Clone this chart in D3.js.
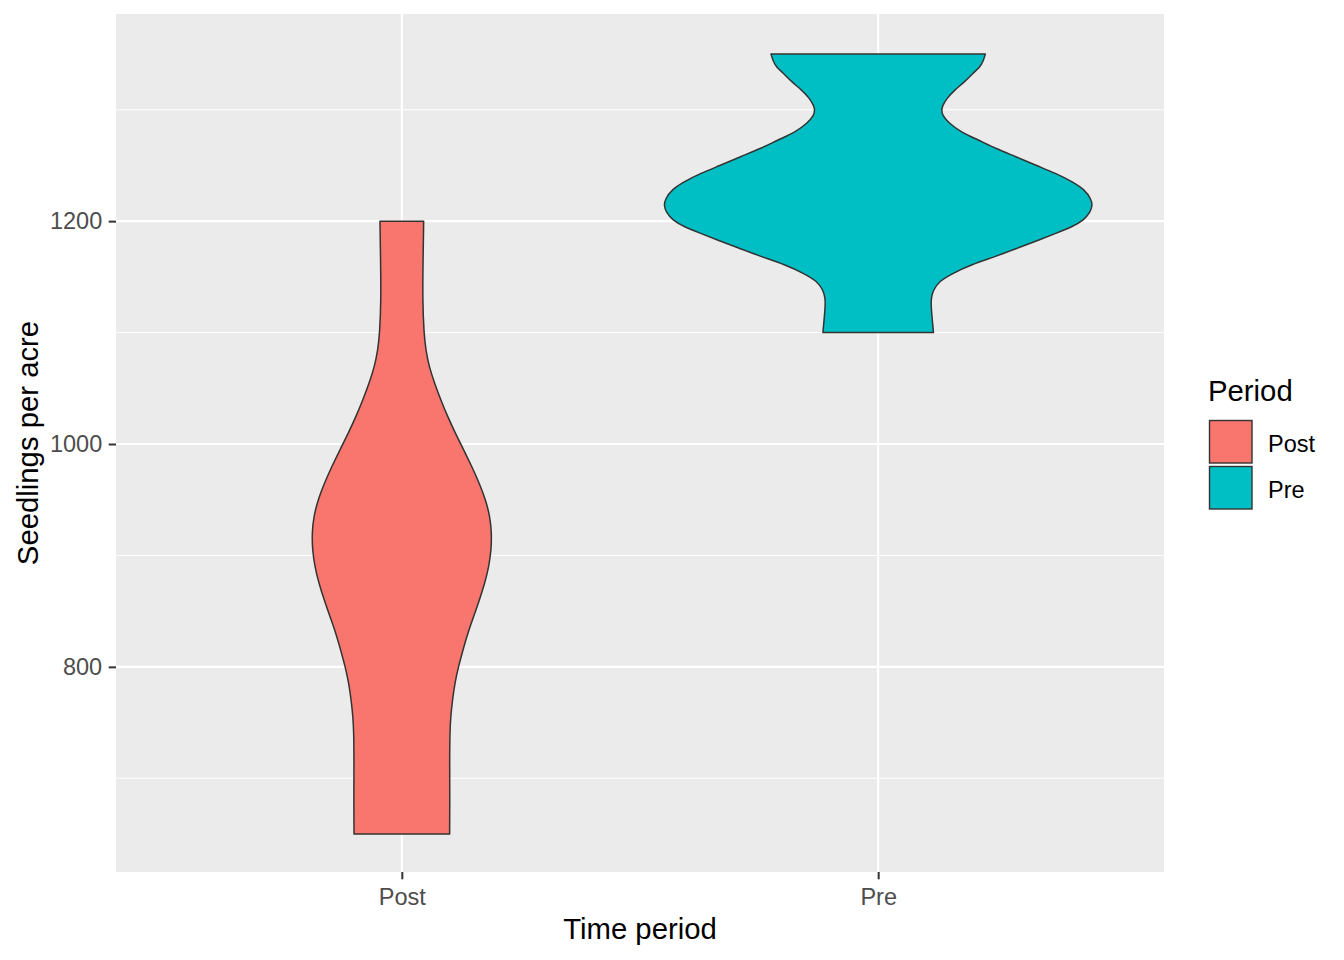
<!DOCTYPE html>
<html>
<head>
<meta charset="utf-8">
<script src="https://cdn.jsdelivr.net/npm/d3@7"></script>
<style>
  html, body { margin: 0; padding: 0; background: #fff; }
  svg { display: block; }
  text { font-family: Arial, "Liberation Sans", Helvetica, sans-serif; }
</style>
</head>
<body>
<svg id="chart" width="1344" height="960"></svg>
<script>
// ---- data ----
const categories = ["Post", "Pre"];
const fillColors = ["#F8766D", "#00BFC4"];
const yTicks = [800, 1000, 1200];
const yMinor = [700, 900, 1100, 1300];
const yDomain = [615, 1385];

// estimated density profile (value, relative density; 1 = widest violin)
const postValues = [1200, 1165, 1129, 1100, 1084, 1069, 1055, 1040, 1025, 1010, 995, 980, 965, 950, 935, 920, 905, 890, 875, 860, 845, 831, 815, 800, 786, 770, 755, 741, 711, 681, 650];
const postDensity = [0.102, 0.099, 0.097, 0.103, 0.112, 0.128, 0.152, 0.181, 0.213, 0.249, 0.288, 0.326, 0.361, 0.391, 0.411, 0.419, 0.417, 0.406, 0.387, 0.362, 0.335, 0.309, 0.285, 0.264, 0.248, 0.236, 0.228, 0.224, 0.223, 0.224, 0.223];

const preValues = [1350, 1344, 1338, 1333, 1325, 1318, 1310, 1303, 1300, 1295, 1288, 1280, 1273, 1265, 1258, 1250, 1243, 1235, 1228, 1220, 1214, 1208, 1201, 1195, 1189, 1183, 1176, 1168, 1161, 1153, 1146, 1138, 1131, 1123, 1108, 1100];
const preDensity = [0.500, 0.491, 0.474, 0.443, 0.404, 0.358, 0.319, 0.299, 0.296, 0.299, 0.330, 0.385, 0.466, 0.550, 0.641, 0.737, 0.828, 0.909, 0.964, 0.993, 1.000, 0.989, 0.960, 0.906, 0.828, 0.750, 0.653, 0.544, 0.435, 0.346, 0.284, 0.257, 0.247, 0.247, 0.254, 0.258];

const seriesValues = [postValues, preValues];
const seriesDensity = [postDensity, preDensity];

// ---- layout ----
const svg = d3.select("#chart");
const panel = { left: 116, right: 1164, top: 14, bottom: 872 };

const x = d3.scalePoint().domain(categories).range([panel.left, panel.right]).padding(0.6);
const y = d3.scaleLinear().domain(yDomain).range([panel.bottom + 1, panel.top + 1]);
const halfWidth = d3.scaleLinear().domain([0, 1]).range([0, 0.45 * x.step()]);

// panel background
svg.append("rect")
  .attr("x", panel.left).attr("y", panel.top)
  .attr("width", panel.right - panel.left).attr("height", panel.bottom - panel.top)
  .attr("fill", "#EBEBEB");

// minor grid
svg.append("g").selectAll("line").data(yMinor).join("line")
  .attr("x1", panel.left).attr("x2", panel.right)
  .attr("y1", d => y(d)).attr("y2", d => y(d))
  .attr("stroke", "#fff").attr("stroke-width", 1.1);

// major grid
svg.append("g").selectAll("line").data(yTicks).join("line")
  .attr("x1", panel.left).attr("x2", panel.right)
  .attr("y1", d => y(d)).attr("y2", d => y(d))
  .attr("stroke", "#fff").attr("stroke-width", 2.1);
svg.append("g").selectAll("line").data(categories).join("line")
  .attr("x1", d => x(d)).attr("x2", d => x(d))
  .attr("y1", panel.top).attr("y2", panel.bottom)
  .attr("stroke", "#fff").attr("stroke-width", 2.1);

// violins
const area = d3.area()
  .curve(d3.curveBasis)
  .y(d => y(d.v));

categories.forEach((cat, i) => {
  const pts = seriesValues[i].map((v, j) => ({ v, r: seriesDensity[i][j] }));
  const cx = x(cat);
  svg.append("path")
    .datum(pts)
    .attr("d", area.x0(d => cx - halfWidth(d.r)).x1(d => cx + halfWidth(d.r)))
    .attr("fill", fillColors[i])
    .attr("stroke", "#333333")
    .attr("stroke-width", 1.5)
    .attr("stroke-linejoin", "round");
});

// y axis
const yAxis = d3.axisLeft(y).tickValues(yTicks).tickSize(7.3).tickPadding(6.5).tickFormat(d3.format("d"));
const gy = svg.append("g").attr("transform", `translate(${panel.left},0)`).call(yAxis);
gy.select(".domain").remove();
gy.selectAll(".tick line").attr("stroke", "#333333").attr("stroke-width", 2);
gy.selectAll(".tick text").attr("fill", "#4D4D4D").style("font-size", "23.5px")
  .style("font-family", "Arial, 'Liberation Sans', sans-serif");

// x axis
const xAxis = d3.axisBottom(x).tickSize(7.3).tickPadding(9);
const gx = svg.append("g").attr("transform", `translate(0,${panel.bottom})`).call(xAxis);
gx.select(".domain").remove();
gx.selectAll(".tick line").attr("stroke", "#333333").attr("stroke-width", 2);
gx.selectAll(".tick text").attr("fill", "#4D4D4D").style("font-size", "23.5px")
  .style("font-family", "Arial, 'Liberation Sans', sans-serif");

// axis titles
svg.append("text")
  .attr("x", (panel.left + panel.right) / 2).attr("y", 939)
  .attr("text-anchor", "middle").attr("fill", "#000").style("font-size", "29.3px")
  .text("Time period");
svg.append("text")
  .attr("transform", `translate(38,${(panel.top + panel.bottom) / 2}) rotate(-90)`)
  .attr("text-anchor", "middle").attr("fill", "#000").style("font-size", "29.3px")
  .text("Seedlings per acre");

// legend
const legend = svg.append("g");
legend.append("text").attr("x", 1208).attr("y", 401)
  .attr("fill", "#000").style("font-size", "29.3px").text("Period");
categories.forEach((cat, i) => {
  const ky = 420.5 + i * 46;
  legend.append("rect")
    .attr("x", 1209.5).attr("y", ky).attr("width", 42.5).attr("height", 42.5)
    .attr("fill", fillColors[i]).attr("stroke", "#333333").attr("stroke-width", 1.4);
  legend.append("text").attr("x", 1268).attr("y", ky + 31)
    .attr("fill", "#000").style("font-size", "23.5px").text(cat);
});
</script>
</body>
</html>
